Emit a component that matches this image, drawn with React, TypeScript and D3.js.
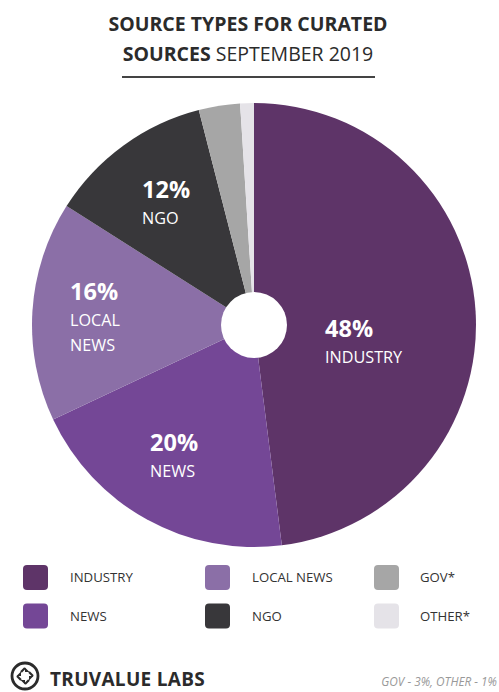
import React from "react";
import * as d3 from "d3";

const categories = ["INDUSTRY", "NEWS", "LOCAL NEWS", "NGO", "GOV*", "OTHER*"];
const values = [48, 20, 16, 12, 3, 1];
const colors = ["#5e3468", "#744796", "#8b6fa7", "#38373a", "#a6a6a6", "#e5e3e8"];
const sliceLabels = [["INDUSTRY"], ["NEWS"], ["LOCAL", "NEWS"], ["NGO"], [], []];
const legendOrder = [0, 2, 4, 1, 3, 5];

const W = 499, H = 692;
const cx = 254, cy = 325, R = 222, r0 = 33;

const labelPos: Record<number, [number, number]> = {
  0: [325, 337],
  1: [150, 451],
  2: [70, 300],
  3: [142, 198],
};

export default function App() {
  const pie = d3.pie<number>().sort(null).value((d) => d)(values);
  const arc = d3.arc<d3.PieArcDatum<number>>().innerRadius(0).outerRadius(R);
  const font = "'Open Sans', sans-serif";

  return (
    <svg width={W} height={H} style={{ position: "absolute", left: 0, top: 0 }} fontFamily={font}>
      <rect width={W} height={H} fill="#fff" />
      <text x={248} y={31} textAnchor="middle" fontSize={19.5} fontWeight={700} fill="#2b2b2b">
        SOURCE TYPES FOR CURATED
      </text>
      <text x={248} y={61} textAnchor="middle" fontSize={19.5} fill="#2b2b2b">
        <tspan fontWeight={700}>SOURCES</tspan>
        <tspan> SEPTEMBER 2019</tspan>
      </text>
      <line x1={122} x2={375} y1={77} y2={77} stroke="#444" strokeWidth={2} />

      <g transform={`translate(${cx},${cy})`}>
        {pie.map((p, i) => (
          <path key={i} d={arc(p) || ""} fill={colors[i]} />
        ))}
        <circle r={r0} fill="#fff" />
      </g>

      {values.map((v, i) => {
        const pos = labelPos[i];
        if (!pos) return null;
        return (
          <g key={i} fill="#fff">
            <text x={pos[0]} y={pos[1]} fontSize={23.5} fontWeight={700}>{v}%</text>
            {sliceLabels[i].map((t, j) => (
              <text key={j} x={pos[0]} y={pos[1] + 26 + j * 25} fontSize={16.2}>{t}</text>
            ))}
          </g>
        );
      })}

      {legendOrder.map((idx, k) => {
        const col = k % 3;
        const row = Math.floor(k / 3);
        const sx = [23, 205, 374][col];
        const tx = [70, 252, 420][col];
        const sy = 565 + row * 38.5;
        return (
          <g key={idx}>
            <rect x={sx} y={sy} width={25} height={25} rx={4} fill={colors[idx]} />
            <text x={tx} y={sy + 17} fontSize={13.2} fill="#333">{categories[idx]}</text>
          </g>
        );
      })}

      <g transform="translate(25,676)">
        <circle r={13} fill="none" stroke="#2b2b2b" strokeWidth={2.8} />
        <path d="M0,-8.5 L4.5,-4 L0,-4 Z M8.5,0 L4,4.5 L4,0 Z M0,8.5 L-4.5,4 L0,4 Z M-8.5,0 L-4,-4.5 L-4,0 Z" fill="#2b2b2b" />
        <path d="M-4,-4 L0,-8 M4,-4 L8,0 M4,4 L0,8 M-4,4 L-8,0" stroke="#2b2b2b" strokeWidth={2.2} />
      </g>
      <text x={50} y={686} fontSize={19} fontWeight={700} fill="#2b2b2b" letterSpacing={0.3}>TRUVALUE LABS</text>
      <text x={497} y={686} textAnchor="end" fontSize={11.8} fontStyle="italic" fill="#999">GOV - 3%, OTHER - 1%</text>
    </svg>
  );
}
